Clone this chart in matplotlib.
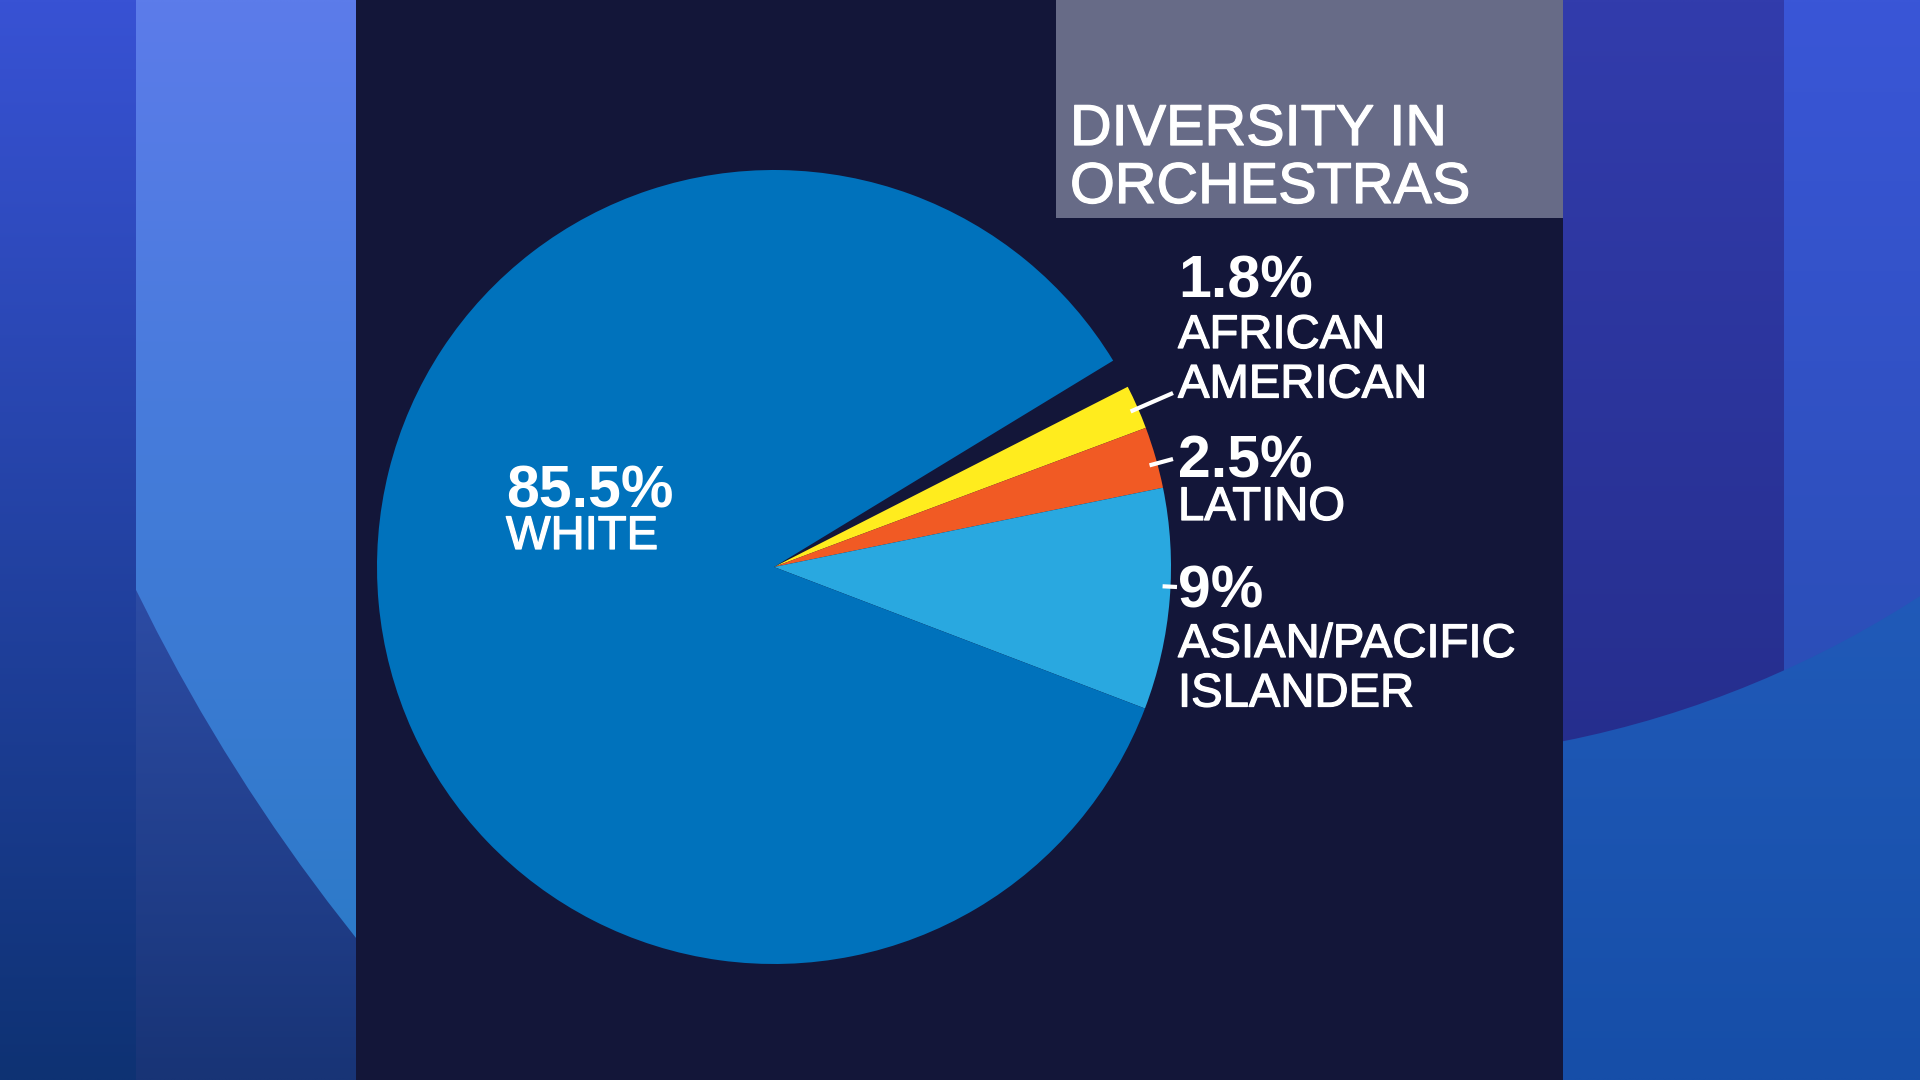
import numpy as np
import matplotlib
matplotlib.use("Agg")
import matplotlib.pyplot as plt
import matplotlib.patheffects as pe
from matplotlib.patches import Rectangle, Circle

# ---------------- data ----------------
values = [1.8, 2.5, 9.0, 85.5]          # percent (remaining 1.2% not shown)
names = ["AFRICAN\nAMERICAN", "LATINO", "ASIAN/PACIFIC\nISLANDER", "WHITE"]
colors = ["#FFEC1E", "#F15A24", "#29A8E0", "#0072BC"]
title_lines = ["DIVERSITY IN", "ORCHESTRAS"]

# ---------------- layout (pixel, image coords: y down) ----------------
W, H = 1920, 1080
CX, CY, R = 774, 567, 397
PANEL = (356, 1563)
TITLE_BOX = (1056, 1563, 0, 218)
# (x, percent baseline, first name baseline, leader end or None)
label_pos = [
    (1178, 298, 348, (1173, 393)),
    (1178, 478, 520, (1173, 459)),
    (1178, 608, 657, (1177, 587)),
    (506, 507, 549, None),
]
LINE_STEP = 49.5

plt.rcParams["font.family"] = ["Liberation Sans", "DejaVu Sans"]
thick = [pe.withStroke(linewidth=0.9, foreground="white")]

fig = plt.figure(figsize=(19.2, 10.8), dpi=100)

# ---------------- background ----------------
bg = fig.add_axes([0, 0, 1, 1])
bg.axis("off")


def grad(x0, x1, c_top, c_bot, y0=0, y1=H, clip=None, z=0):
    t = np.linspace(0, 1, 256)[:, None, None]
    arr = (np.array(c_top)[None, None, :] * (1 - t) + np.array(c_bot)[None, None, :] * t) / 255.0
    im = bg.imshow(arr, extent=(x0, x1, y1, y0), aspect="auto",
                   interpolation="bilinear", zorder=z)
    if clip is not None:
        im.set_clip_path(clip)
    return im


# left side
grad(0, 136, (56, 82, 212), (14, 50, 115))
grad(136, PANEL[0], (70, 105, 222), (24, 52, 118), z=0)
c_left = Circle((1812, -226), 1864, transform=bg.transData)
grad(136, PANEL[0], (92, 124, 234), (38, 122, 196), clip=c_left, z=1)
# right side
grad(PANEL[1], W, (45, 105, 205), (22, 78, 168), z=0)
c_right = Circle((1363, -262), 1023, transform=bg.transData)
grad(PANEL[1], 1784, (50, 60, 172), (32, 40, 128), clip=c_right, z=1)
c_right2 = Circle((1363, -262), 1023, transform=bg.transData)
grad(1784, W, (58, 86, 215), (34, 74, 165), clip=c_right2, z=1)

bg.add_patch(Rectangle((PANEL[0], 0), PANEL[1] - PANEL[0], H,
                       facecolor="#131639", edgecolor="none", zorder=2))
bg.add_patch(Rectangle((TITLE_BOX[0], TITLE_BOX[2]), TITLE_BOX[1] - TITLE_BOX[0],
                       TITLE_BOX[3] - TITLE_BOX[2],
                       facecolor="#676B87", edgecolor="none", zorder=3))
bg.set_xlim(0, W)
bg.set_ylim(H, 0)

# ---------------- pie ----------------
ax = fig.add_axes([0, 0, 1, 1])
ax.patch.set_alpha(0)
wedges, _ = ax.pie(np.array(values) / 100.0, normalize=False, colors=colors,
                   startangle=27.0, counterclock=False,
                   center=(CX, H - CY), radius=R,
                   wedgeprops=dict(linewidth=0))
ax.set_xlim(0, W)
ax.set_ylim(0, H)
ax.axis("off")

for v, name, (lx, pb, nb, lead) in zip(values, names, label_pos):
    ax.text(lx, H - pb, f"{v:g}%", color="white", fontsize=42.5,
            fontweight="bold", ha="left", va="baseline")
    for i, line in enumerate(name.split("\n")):
        ax.text(lx, H - (nb + i * LINE_STEP), line, color="white", fontsize=34,
                ha="left", va="baseline", path_effects=thick)
    if lead is not None:
        ex, ey = lead
        th = np.arctan2(CY - ey, ex - CX)
        sx = CX + 0.98 * R * np.cos(th)
        sy = (H - CY) + 0.98 * R * np.sin(th)
        ax.plot([sx, ex], [sy, H - ey], color="white", lw=3,
                solid_capstyle="butt")

# title
for i, line in enumerate(title_lines):
    ax.text(1070, H - (145 + i * 58), line, color="white", fontsize=41.5,
            ha="left", va="baseline", path_effects=thick)

fig.savefig("out.png", dpi=100)
